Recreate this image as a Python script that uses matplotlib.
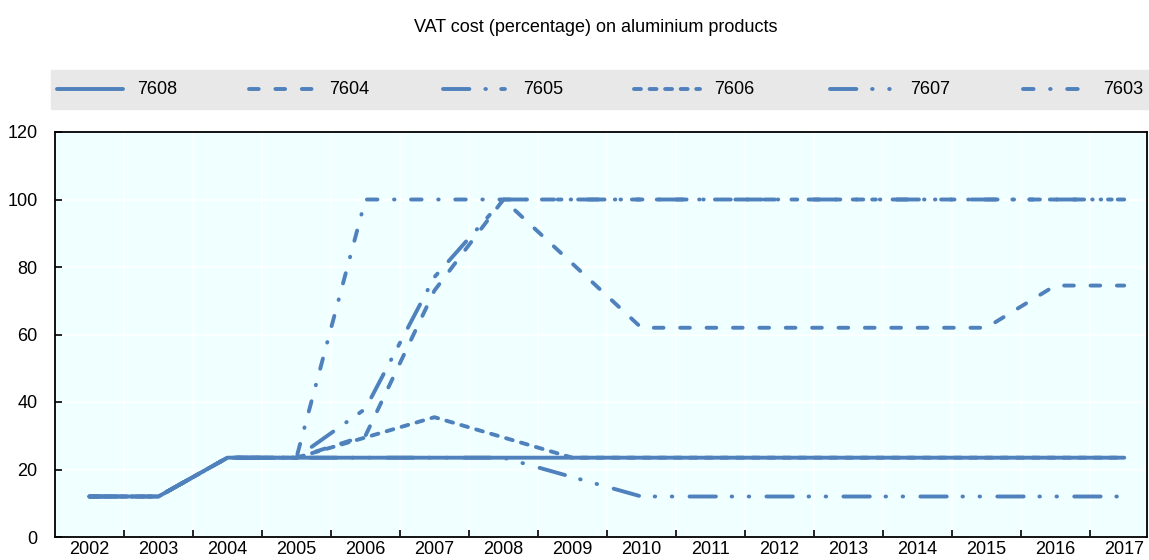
import matplotlib
matplotlib.use("Agg")
import matplotlib.pyplot as plt
from matplotlib.lines import Line2D

plt.rcParams['font.family'] = ['Liberation Sans Narrow', 'Liberation Sans', 'DejaVu Sans']
plt.rcParams['lines.scale_dashes'] = False

years = [str(y) for y in range(2002, 2018)]
codes = ['7608', '7604', '7605', '7606', '7607', '7603']

# VAT cost (%) per HS code, 2002-2017
v7608 = [12, 12, 23.5, 23.5, 23.5, 23.5, 23.5, 23.5, 23.5, 23.5, 23.5, 23.5, 23.5, 23.5, 23.5, 23.5]
v7604 = [12, 12, 23.5, 23.5, 30, 73, 100, 81, 62, 62, 62, 62, 62, 62, 74.5, 74.5]
v7605 = [12, 12, 23.5, 23.5, 38, 77, 100, 100, 100, 100, 100, 100, 100, 100, 100, 100]
v7606 = [12, 12, 23.5, 23.5, 29.5, 35.5, 29.5, 23.5, 23.5, 23.5, 23.5, 23.5, 23.5, 23.5, 23.5, 23.5]
v7607 = [12, 12, 23.5, 23.5, 23.5, 23.5, 23.5, 17.75, 12, 12, 12, 12, 12, 12, 12, 12]
v7603 = [12, 12, 23.5, 23.5, 100, 100, 100, 100, 100, 100, 100, 100, 100, 100, 100, 100]
series = [v7608, v7604, v7605, v7606, v7607, v7603]

color = '#4f81bd'
lw = 2.8
styles = [
    '-',
    (0, (7, 12)),
    (0, (19, 11.5, 0.4, 11, 2.7, 12)),
    (0, (5, 6.2)),
    (0, (19, 11.3, 0.4, 11.9, 0.4, 12.4)),
    (0, (7.6, 11.9, 0.4, 11.9)),
]

fig = plt.figure(figsize=(11.49, 5.6), dpi=100)
ax = fig.add_axes([55 / 1149, 1 - 537 / 560, (1147 - 55) / 1149, (537 - 132) / 560])
ax.set_facecolor('#f0ffff')

x = list(range(len(years)))
for vals, ls in zip(series, styles):
    ax.plot(x, vals, color=color, lw=lw, linestyle=ls,
            dash_capstyle='round', solid_capstyle='round', solid_joinstyle='round')

ax.set_xlim(-0.5, 15.33)
ax.set_ylim(0, 120)
ax.set_yticks(range(0, 121, 20))
ax.set_xticks(x)
ax.set_xticklabels(years)
ax.set_xticks([i + 0.5 for i in x[:-1]], minor=True)
ax.tick_params(axis='x', which='major', length=0, pad=3, labelsize=13)
ax.tick_params(axis='x', which='minor', direction='in', length=5, width=1.2)
ax.tick_params(axis='y', direction='in', length=5, width=1.2, pad=12.5, labelsize=13)
ax.grid(True, axis='x', which='minor', color='white', lw=1.2)
ax.grid(True, axis='y', which='major', color='white', lw=1.2)
ax.set_axisbelow(True)
for sp in ax.spines.values():
    sp.set_linewidth(1.3)
    sp.set_color('black')

fig.text(596 / 1149, 1 - 27 / 560, 'VAT cost (percentage) on aluminium products',
         ha='center', va='center', fontsize=13)

# legend band
fig.patches.append(plt.Rectangle((51 / 1149, 1 - 109 / 560), 1 - 51 / 1149, 39 / 560,
                                 transform=fig.transFigure, color='#e8e8e8', zorder=0))
slot_x = [57, 249, 443, 634, 830, 1023]
ly = 1 - 89 / 560
for code, ls, sx in zip(codes, styles, slot_x):
    fig.add_artist(Line2D([sx / 1149, (sx + 66) / 1149], [ly, ly], color=color, lw=lw,
                          linestyle=ls, dash_capstyle='round', solid_capstyle='round',
                          transform=fig.transFigure))
    fig.text((sx + 80) / 1149, ly, code, ha='left', va='center', fontsize=13)

fig.savefig('out.png', dpi=100)
